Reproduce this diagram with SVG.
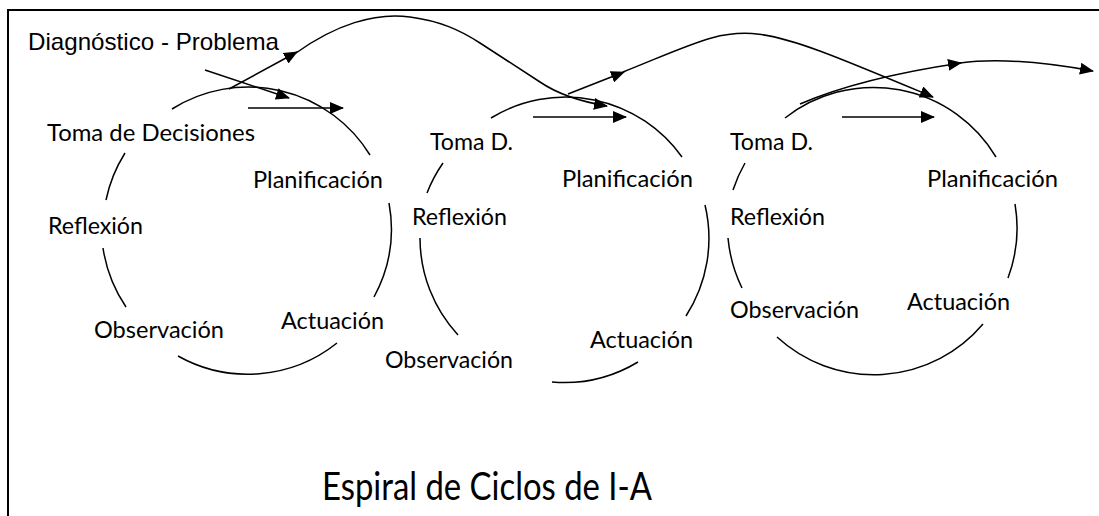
<svg xmlns="http://www.w3.org/2000/svg" width="1099" height="516" viewBox="0 0 1099 516">
<style>
.lbl{font-family:Lato,"Open Sans","DejaVu Sans",sans-serif;font-size:23px;fill:#000}
.diag{font-family:"Liberation Sans",Arial,sans-serif;font-size:24px;fill:#000}
.title{font-family:Lato,"Open Sans","DejaVu Sans",sans-serif;font-size:39px;fill:#000}
.arc{fill:none;stroke:#000;stroke-width:1.5}
.con{fill:none;stroke:#000;stroke-width:1.5;marker-end:url(#ah)}
.frame{fill:none;stroke:#000;stroke-width:2}
</style>
<defs>
<marker id="ah" markerUnits="userSpaceOnUse" markerWidth="14" markerHeight="12" viewBox="0 0 14 12" refX="13" refY="6" orient="auto">
<path d="M0,0 L14,6 L0,12 z" fill="#000"/>
</marker>
</defs>
<rect width="1099" height="516" fill="#fff"/>
<path class="frame" d="M8,516 L8,10 L1099,10"/>

<g id="cycle1">
<path class="arc" d="M172,109 A143,143 0 0 1 370,155"/>
<path class="arc" d="M125,153 A143,143 0 0 0 106,200"/>
<path class="arc" d="M103,248 A143,143 0 0 0 126,307"/>
<path class="arc" d="M178,356 A143,143 0 0 0 337,343"/>
<path class="arc" d="M389,203 A143,143 0 0 1 374,297"/>
</g>
<g id="cycle2">
<path class="arc" d="M491,118 A143,143 0 0 1 682,157"/>
<path class="arc" d="M443,163 A143,143 0 0 0 427,193"/>
<path class="arc" d="M420,238 A143,143 0 0 0 458,335"/>
<path class="arc" d="M552,382 A143,143 0 0 0 638,362"/>
<path class="arc" d="M705,205 A143,143 0 0 1 686,316"/>
</g>
<g id="cycle3">
<path class="arc" d="M785,118 A143,143 0 0 1 996,157"/>
<path class="arc" d="M745,163 A143,143 0 0 0 733,190"/>
<path class="arc" d="M728,238 A143,143 0 0 0 742,288"/>
<path class="arc" d="M777,337 A143,143 0 0 0 983,324"/>
<path class="arc" d="M1015,204 A143,143 0 0 1 1008,278"/>
</g>

<g id="connectors">
<path class="con" d="M205,70 L289,98"/>
<path class="con" d="M248,108 L343,108"/>
<path class="con" d="M229,89 L297,52"/>
<path class="con" d="M296,53 C335,25 375,12 410,17 C440,21 460,30 480,43 L540,82 Q565,99 607,106"/>
<path class="con" d="M533,117 L626,117"/>
<path class="con" d="M568,94 L624,72"/>
<path class="con" d="M623,72 C753,20 732,13 933,97"/>
<path class="con" d="M842,117 L934,117"/>
<path class="con" d="M800,104 Q860,78 961,63"/>
<path class="con" d="M960,63 Q1010,56 1093,71"/>
</g>

<g id="diagnostico"><text class="diag" x="28" y="50" textLength="251" lengthAdjust="spacingAndGlyphs">Diagnóstico - Problema</text></g>

<g id="c1-toma"><text class="lbl" x="47" y="141" textLength="208" lengthAdjust="spacingAndGlyphs">Toma de Decisiones</text></g>
<g id="c1-plan"><text class="lbl" x="253" y="188" textLength="130" lengthAdjust="spacingAndGlyphs">Planificación</text></g>
<g id="c1-refl"><text class="lbl" x="48" y="234" textLength="95" lengthAdjust="spacingAndGlyphs">Reflexión</text></g>
<g id="c1-obs"><text class="lbl" x="94" y="338" textLength="130" lengthAdjust="spacingAndGlyphs">Observación</text></g>
<g id="c1-act"><text class="lbl" x="281" y="329" textLength="103" lengthAdjust="spacingAndGlyphs">Actuación</text></g>

<g id="c2-toma"><text class="lbl" x="430" y="150" textLength="83" lengthAdjust="spacingAndGlyphs">Toma D.</text></g>
<g id="c2-plan"><text class="lbl" x="562" y="187" textLength="131" lengthAdjust="spacingAndGlyphs">Planificación</text></g>
<g id="c2-refl"><text class="lbl" x="412" y="225" textLength="95" lengthAdjust="spacingAndGlyphs">Reflexión</text></g>
<g id="c2-obs"><text class="lbl" x="385" y="368" textLength="128" lengthAdjust="spacingAndGlyphs">Observación</text></g>
<g id="c2-act"><text class="lbl" x="590" y="348" textLength="103" lengthAdjust="spacingAndGlyphs">Actuación</text></g>

<g id="c3-toma"><text class="lbl" x="730" y="150" textLength="83" lengthAdjust="spacingAndGlyphs">Toma D.</text></g>
<g id="c3-plan"><text class="lbl" x="927" y="187" textLength="131" lengthAdjust="spacingAndGlyphs">Planificación</text></g>
<g id="c3-refl"><text class="lbl" x="730" y="225" textLength="95" lengthAdjust="spacingAndGlyphs">Reflexión</text></g>
<g id="c3-obs"><text class="lbl" x="730" y="318" textLength="129" lengthAdjust="spacingAndGlyphs">Observación</text></g>
<g id="c3-act"><text class="lbl" x="907" y="310" textLength="103" lengthAdjust="spacingAndGlyphs">Actuación</text></g>

<g id="title"><text class="title" x="322" y="500" textLength="330" lengthAdjust="spacingAndGlyphs">Espiral de Ciclos de I-A</text></g>
</svg>
